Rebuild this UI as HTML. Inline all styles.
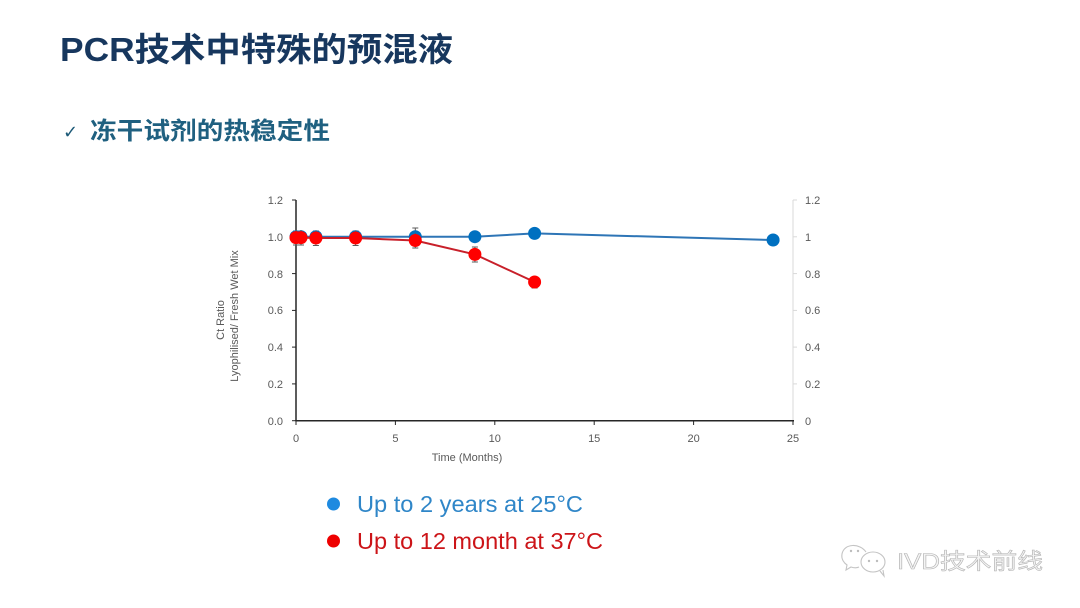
<!DOCTYPE html>
<html>
<head>
<meta charset="utf-8">
<style>
html,body{margin:0;padding:0;background:#fff;}
svg{display:block;}
</style>
</head>
<body>
<svg width="1080" height="608" viewBox="0 0 1080 608" xmlns="http://www.w3.org/2000/svg">
<rect width="1080" height="608" fill="#ffffff"/>

<!-- Titles -->
<text x="60" y="61" font-family="'Liberation Sans Narrow','Liberation Sans','Noto Sans CJK SC',sans-serif" font-size="33" font-weight="bold" fill="#17375e" textLength="393" lengthAdjust="spacingAndGlyphs">PCR技术中特殊的预混液</text>
<text x="63" y="138" font-family="'DejaVu Sans',sans-serif" font-size="18" fill="#1d5a78">✓</text>
<text x="90" y="139" font-family="'Liberation Sans','Noto Sans CJK SC',sans-serif" font-size="24" font-weight="bold" fill="#1f6080" textLength="240" lengthAdjust="spacingAndGlyphs">冻干试剂的热稳定性</text>

<!-- Chart axes -->
<g font-family="'Liberation Sans',sans-serif" font-size="11" fill="#595959">
  <!-- right axis -->
  <line x1="793" y1="200" x2="793" y2="420.7" stroke="#d9d9d9" stroke-width="1"/>
  <g stroke="#d9d9d9" stroke-width="1">
    <line x1="793" y1="200" x2="797" y2="200"/>
    <line x1="793" y1="236.8" x2="797" y2="236.8"/>
    <line x1="793" y1="273.6" x2="797" y2="273.6"/>
    <line x1="793" y1="310.4" x2="797" y2="310.4"/>
    <line x1="793" y1="347.1" x2="797" y2="347.1"/>
    <line x1="793" y1="383.9" x2="797" y2="383.9"/>
  </g>
  <text x="805" y="204">1.2</text>
  <text x="805" y="241">1</text>
  <text x="805" y="278">0.8</text>
  <text x="805" y="314">0.6</text>
  <text x="805" y="351">0.4</text>
  <text x="805" y="388">0.2</text>
  <text x="805" y="425">0</text>

  <!-- left axis -->
  <line x1="296" y1="200" x2="296" y2="421" stroke="#262626" stroke-width="1.5"/>
  <line x1="295.3" y1="420.7" x2="794" y2="420.7" stroke="#262626" stroke-width="1.5"/>
  <g stroke="#262626" stroke-width="1">
    <line x1="292" y1="200" x2="296" y2="200"/>
    <line x1="292" y1="236.8" x2="296" y2="236.8"/>
    <line x1="292" y1="273.6" x2="296" y2="273.6"/>
    <line x1="292" y1="310.4" x2="296" y2="310.4"/>
    <line x1="292" y1="347.1" x2="296" y2="347.1"/>
    <line x1="292" y1="383.9" x2="296" y2="383.9"/>
    <line x1="292" y1="420.7" x2="296" y2="420.7"/>
    <line x1="296" y1="420.7" x2="296" y2="425"/>
    <line x1="395.4" y1="420.7" x2="395.4" y2="425"/>
    <line x1="494.8" y1="420.7" x2="494.8" y2="425"/>
    <line x1="594.2" y1="420.7" x2="594.2" y2="425"/>
    <line x1="693.6" y1="420.7" x2="693.6" y2="425"/>
    <line x1="793" y1="420.7" x2="793" y2="425"/>
  </g>
  <g text-anchor="end">
    <text x="283" y="204">1.2</text>
    <text x="283" y="241">1.0</text>
    <text x="283" y="278">0.8</text>
    <text x="283" y="314">0.6</text>
    <text x="283" y="351">0.4</text>
    <text x="283" y="388">0.2</text>
    <text x="283" y="425">0.0</text>
  </g>
  <g text-anchor="middle">
    <text x="296" y="442">0</text>
    <text x="395.4" y="442">5</text>
    <text x="494.8" y="442">10</text>
    <text x="594.2" y="442">15</text>
    <text x="693.6" y="442">20</text>
    <text x="793" y="442">25</text>
    <text x="467" y="461">Time (Months)</text>
    <text transform="translate(224,320) rotate(-90)">Ct Ratio</text>
    <text transform="translate(238,316) rotate(-90)">Lyophilised/ Fresh Wet Mix</text>
  </g>
</g>

<!-- Blue series -->
<polyline points="296,236.7 301,236.7 315.9,236.7 355.6,236.7 415.3,236.7 474.9,236.7 534.6,233.4 773.1,240" fill="none" stroke="#2e75b6" stroke-width="2"/>
<g stroke="#595959" stroke-width="1">
  <line x1="296" y1="231" x2="296" y2="243"/><line x1="293" y1="231" x2="299" y2="231"/>
  <line x1="315.9" y1="231" x2="315.9" y2="243"/><line x1="312.9" y1="231" x2="318.9" y2="231"/>
  <line x1="355.6" y1="231" x2="355.6" y2="243"/><line x1="352.6" y1="231" x2="358.6" y2="231"/>
  <line x1="415.3" y1="228" x2="415.3" y2="246"/><line x1="412.3" y1="228" x2="418.3" y2="228"/>
</g>
<g fill="#0070c0">
  <circle cx="296" cy="236.7" r="6.5"/>
  <circle cx="301" cy="236.7" r="6.5"/>
  <circle cx="315.9" cy="236.7" r="6.5"/>
  <circle cx="355.6" cy="236.7" r="6.5"/>
  <circle cx="415.3" cy="236.7" r="6.5"/>
  <circle cx="474.9" cy="236.7" r="6.5"/>
  <circle cx="534.6" cy="233.4" r="6.5"/>
  <circle cx="773.1" cy="240" r="6.5"/>
</g>

<!-- Red series -->
<polyline points="296,237.6 301,237.6 315.9,238 355.6,238 415.3,240.5 474.9,254.4 534.6,282" fill="none" stroke="#c8202a" stroke-width="2"/>
<g stroke="#595959" stroke-width="1">
  <line x1="296" y1="230" x2="296" y2="245"/><line x1="293" y1="245" x2="299" y2="245"/>
  <line x1="301" y1="230" x2="301" y2="245"/><line x1="298" y1="245" x2="304" y2="245"/>
  <line x1="315.9" y1="230.5" x2="315.9" y2="245.5"/><line x1="312.9" y1="245.5" x2="318.9" y2="245.5"/>
  <line x1="355.6" y1="230.5" x2="355.6" y2="245.5"/><line x1="352.6" y1="245.5" x2="358.6" y2="245.5"/>
  <line x1="415.3" y1="233" x2="415.3" y2="248"/><line x1="412.3" y1="248" x2="418.3" y2="248"/>
  <line x1="474.9" y1="247" x2="474.9" y2="262"/><line x1="471.9" y1="247" x2="477.9" y2="247"/><line x1="471.9" y1="262" x2="477.9" y2="262"/>
  <line x1="534.6" y1="276.5" x2="534.6" y2="288"/><line x1="531.6" y1="288" x2="537.6" y2="288"/>
</g>
<g fill="#ff0000">
  <circle cx="296" cy="237.6" r="6.5"/>
  <circle cx="301" cy="237.6" r="6.5"/>
  <circle cx="315.9" cy="238" r="6.5"/>
  <circle cx="355.6" cy="238" r="6.5"/>
  <circle cx="415.3" cy="240.5" r="6.5"/>
  <circle cx="474.9" cy="254.4" r="6.5"/>
  <circle cx="534.6" cy="282" r="6.5"/>
</g>

<!-- Legend -->
<circle cx="333.5" cy="504" r="6.5" fill="#1e8ae0"/>
<text x="357" y="512" font-family="'Liberation Sans',sans-serif" font-size="23.5" fill="#2f86c8" textLength="226" lengthAdjust="spacingAndGlyphs">Up to 2 years at 25°C</text>
<circle cx="333.5" cy="541" r="6.5" fill="#ee0000"/>
<text x="357" y="549" font-family="'Liberation Sans',sans-serif" font-size="23.5" fill="#cc1418" textLength="246" lengthAdjust="spacingAndGlyphs">Up to 12 month at 37°C</text>

<!-- Watermark -->
<g fill="none" stroke="#c4c4c4" stroke-width="1.1">
  <path d="M866,552 c-6,-9 -22,-9 -24,2 c-1,5 2,9 5,11 l-1,5 l5,-3 c3,1 6,1 8,0"/>
  <ellipse cx="873" cy="562" rx="12" ry="10"/>
  <path d="M880,571 l4,5 l-1,-6"/>
</g>
<g fill="#bcbcbc">
  <circle cx="851" cy="551" r="1.2"/><circle cx="858" cy="551" r="1.2"/>
  <circle cx="869" cy="561" r="1.2"/><circle cx="877" cy="561" r="1.2"/>
</g>
<text x="897" y="569" font-family="'Liberation Sans','Noto Sans CJK SC',sans-serif" font-size="22" fill="#f4f4f4" stroke="#b4b4b4" stroke-width="0.6" textLength="146" lengthAdjust="spacingAndGlyphs">IVD技术前线</text>
</svg>
</body>
</html>
